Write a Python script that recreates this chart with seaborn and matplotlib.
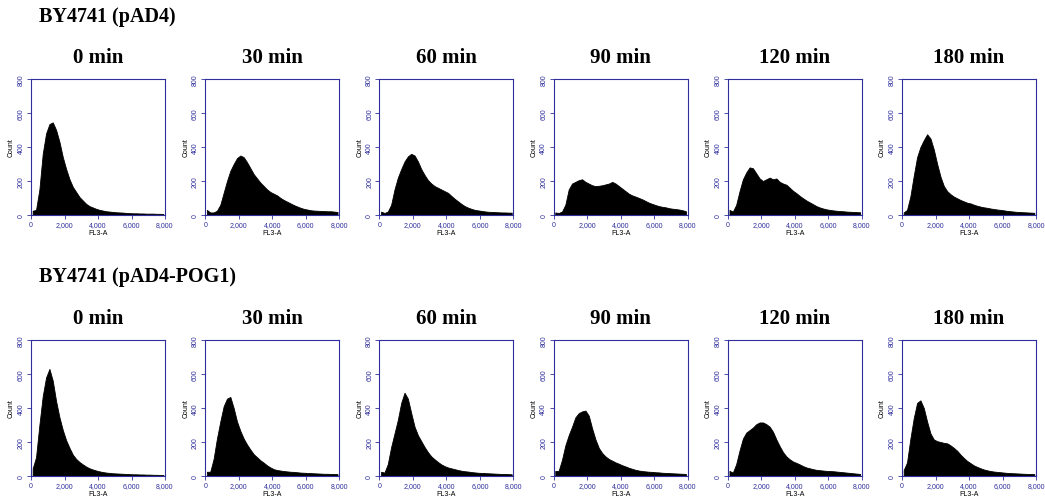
import numpy as np
import pandas as pd
import matplotlib.pyplot as plt
import seaborn as sns

sns.set_theme(style="ticks")
plt.rcParams['font.family'] = ['Liberation Sans', 'DejaVu Sans']
plt.rcParams['text.color'] = 'black'
plt.rcParams['axes.labelcolor'] = 'black'

# FL3-A channel bins (width 200) and counts
bin_mid = np.arange(100, 8000, 200)

times = ['0 min', '30 min', '60 min', '90 min', '120 min', '180 min']
strains = ['BY4741 (pAD4)', 'BY4741 (pAD4-POG1)']
x_ticks = [0, 2000, 4000, 6000, 8000]
x_tick_labels = ['0', '2,000', '4,000', '6,000', '8,000']
y_ticks = [0, 200, 400, 600, 800]

# BY4741 (pAD4)
pad4_0 = [25, 30, 150, 360, 480, 535, 545, 500, 430, 340, 270, 210, 165, 135, 105, 85, 65, 52, 44, 36,
          30, 26, 22, 20, 18, 16, 15, 14, 12, 11, 10, 10, 9, 9, 8, 8, 8, 7, 7, 6]
pad4_30 = [30, 15, 15, 25, 60, 130, 200, 260, 300, 335, 350, 340, 310, 275, 240, 215, 190, 170, 150, 135,
           125, 115, 100, 88, 78, 68, 58, 50, 42, 36, 32, 28, 26, 25, 24, 23, 22, 22, 20, 18]
pad4_60 = [20, 12, 20, 60, 150, 220, 270, 315, 345, 360, 350, 315, 270, 235, 205, 185, 170, 160, 150, 140,
           130, 112, 95, 80, 65, 52, 43, 36, 30, 27, 24, 21, 19, 18, 17, 16, 15, 15, 14, 14]
pad4_90 = [15, 12, 20, 60, 150, 185, 195, 205, 210, 195, 185, 175, 170, 172, 175, 180, 185, 195, 185, 170,
           155, 140, 125, 115, 108, 100, 92, 82, 72, 65, 58, 52, 48, 45, 40, 37, 35, 32, 28, 22]
pad4_120 = [30, 20, 60, 140, 210, 250, 280, 275, 245, 215, 200, 210, 220, 210, 215, 195, 185, 178, 160, 142,
            128, 112, 98, 85, 74, 63, 52, 44, 38, 33, 30, 27, 25, 23, 22, 20, 19, 18, 17, 16]
pad4_180 = [15, 30, 110, 230, 340, 400, 440, 475, 450, 385, 300, 225, 170, 140, 122, 108, 98, 88, 80, 72,
            68, 60, 54, 49, 45, 42, 38, 35, 32, 30, 27, 24, 22, 20, 18, 17, 16, 15, 14, 13]

# BY4741 (pAD4-POG1)
pog1_0 = [45, 110, 300, 470, 580, 630, 560, 440, 345, 270, 210, 165, 125, 100, 82, 68, 55, 45, 38, 32,
          27, 23, 20, 18, 16, 15, 14, 13, 12, 11, 10, 10, 9, 9, 8, 8, 7, 7, 6, 6]
pog1_30 = [25, 25, 100, 220, 320, 410, 455, 465, 400, 320, 265, 220, 185, 155, 128, 110, 92, 78, 62, 50,
           40, 35, 32, 29, 27, 25, 24, 22, 20, 19, 18, 17, 16, 15, 14, 13, 13, 12, 12, 11]
pog1_60 = [25, 20, 70, 170, 250, 330, 430, 490, 455, 370, 290, 240, 205, 170, 140, 115, 98, 82, 68, 58,
           50, 45, 40, 35, 31, 28, 26, 23, 21, 19, 18, 17, 16, 15, 14, 13, 12, 12, 11, 10]
pog1_90 = [30, 30, 95, 180, 240, 290, 345, 370, 380, 385, 355, 280, 215, 165, 135, 115, 100, 90, 80, 72,
           63, 56, 48, 42, 36, 32, 29, 27, 25, 24, 22, 21, 19, 18, 17, 16, 15, 14, 13, 12]
pog1_120 = [30, 20, 70, 150, 220, 255, 270, 285, 305, 315, 315, 305, 290, 260, 215, 175, 140, 115, 98, 85,
            77, 68, 58, 50, 45, 40, 36, 34, 32, 30, 29, 28, 26, 24, 22, 20, 18, 16, 14, 12]
pog1_180 = [35, 80, 220, 340, 430, 445, 400, 320, 250, 215, 205, 200, 195, 192, 180, 165, 148, 125, 105, 88,
            75, 62, 53, 45, 38, 33, 29, 26, 24, 22, 20, 18, 17, 16, 15, 14, 13, 12, 12, 11]

panels = [[pad4_0, pad4_30, pad4_60, pad4_90, pad4_120, pad4_180],
          [pog1_0, pog1_30, pog1_60, pog1_90, pog1_120, pog1_180]]

navy = '#2f2f9c'
W, H = 1045, 502
fig = plt.figure(figsize=(W / 100, H / 100), dpi=100)

row_top = [80, 341]
header_y = [17, 277]
for r in range(2):
    fig.text(39 / W, 1 - header_y[r] / H, strains[r], family='Liberation Serif',
             fontweight='bold', fontsize=14.5, va='center', ha='left', color='black')
    for c in range(6):
        left = 31 + 174.2 * c
        ax = fig.add_axes([left / W, 1 - (row_top[r] + 136) / H, 134 / W, 136 / H])
        df = pd.DataFrame({'fl3': bin_mid, 'n': panels[r][c]})
        sns.histplot(data=df, x='fl3', weights='n', binwidth=200, binrange=(0, 8000),
                     element='poly', fill=True, color='black', alpha=1, linewidth=0.6, ax=ax)
        ax.set_xlim(0, 8000)
        ax.set_ylim(0, 800)
        ax.set_xticks(x_ticks)
        ax.set_xticklabels(x_tick_labels)
        ax.set_yticks(y_ticks)
        ax.tick_params(axis='both', colors=navy, labelsize=5, length=3, width=0.6, pad=1.5)
        ax.tick_params(axis='y', labelrotation=90)
        for lbl in ax.get_yticklabels():
            lbl.set_va('center')
        for s in ax.spines.values():
            s.set_visible(True)
            s.set_color(navy)
            s.set_linewidth(0.8)
        ax.set_xlabel('FL3-A', fontsize=5, labelpad=0.5, color='black')
        ax.set_ylabel('Count', fontsize=5, labelpad=2, color='black')
        ax.set_title(times[c], family='Liberation Serif', fontweight='bold', fontsize=15,
                     pad=12, color='black')

fig.savefig('out.png', dpi=100)
